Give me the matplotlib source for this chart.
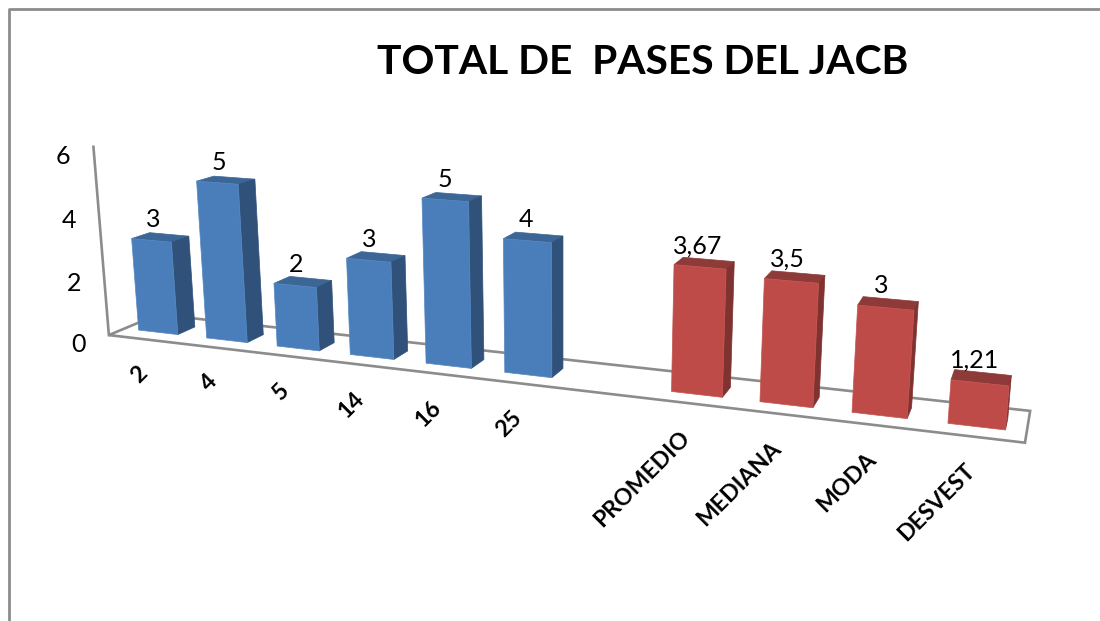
import numpy as np
import matplotlib
matplotlib.use("Agg")
import matplotlib.pyplot as plt

categories = ["2", "4", "5", "14", "16", "25", "", "PROMEDIO", "MEDIANA", "MODA", "DESVEST"]
values = [3, 5, 2, 3, 5, 4, None, 3.67, 3.5, 3, 1.21]
value_labels = ["3", "5", "2", "3", "5", "4", "", "3,67", "3,5", "3", "1,21"]
y_ticks = [0, 2, 4, 6]
title = "TOTAL DE  PASES DEL JACB"
n_blue = 6

# Perspective camera of the 3-D scene: (slot fraction, depth fraction, value) -> pixels
CAMERA = np.array([[717.67251, 57.42509, -3.08437, 108.86399],
                   [21.90204, -4.39472, -32.18071, 335.08696],
                   [-0.1936, 0.05169, -0.00548, 1.0]])
BAR_WIDTH = 0.58
DEPTH_FRONT = 0.31
DEPTH_BACK = 0.67


def project(u, d, z):
    q = CAMERA @ np.array([u, d, z, 1.0])
    return q[0] / q[2], q[1] / q[2]


fig = plt.figure(figsize=(11, 6.21), dpi=100)
ax = fig.add_axes([0, 0, 1, 1])
ax.set_xlim(0, 1100)
ax.set_ylim(621, 0)
ax.axis("off")

grey = "#8c8c8c"
ax.plot([9, 9, 1100], [621, 9, 9], color=grey, lw=2)
floor = [project(*c, 0) for c in [(0, 0), (1, 0), (1, 1), (0, 1)]]
ax.fill(*zip(*floor), facecolor="none", edgecolor=grey, lw=1.9)
ax.plot(*zip(project(0, 0, 0), project(0, 0, max(y_ticks))), color=grey, lw=1.9)

for t in y_ticks:
    x, y = project(0, 0, t)
    ax.text(x - 30, y + 9.5, str(t), fontsize=18, family="Lato", ha="center", va="center")

blue = ("#4a7ebb", "#30527a", "#3c6696", "#5587c2")
red = ("#be4b48", "#7f3230", "#8e3a38", "#c45552")
n = len(categories)
for i, (c, v, lab) in enumerate(zip(categories, values, value_labels)):
    if v is None:
        continue
    l = (i + .5 - BAR_WIDTH / 2) / n
    r = (i + .5 + BAR_WIDTH / 2) / n
    fc, sc, tc, ec = blue if i < n_blue else red
    ax.fill(*zip(*[project(l, DEPTH_FRONT, v), project(r, DEPTH_FRONT, v),
                   project(r, DEPTH_BACK, v), project(l, DEPTH_BACK, v)]), color=tc, lw=.5)
    ax.fill(*zip(*[project(r, DEPTH_FRONT, 0), project(r, DEPTH_BACK, 0),
                   project(r, DEPTH_BACK, v), project(r, DEPTH_FRONT, v)]), color=sc, lw=.5)
    ax.fill(*zip(*[project(l, DEPTH_FRONT, 0), project(r, DEPTH_FRONT, 0),
                   project(r, DEPTH_FRONT, v), project(l, DEPTH_FRONT, v)]),
            facecolor=fc, edgecolor=ec, lw=.5)
    x, y = project((l + r) / 2, (DEPTH_FRONT + DEPTH_BACK) / 2, v)
    ax.text(x - 7, y - 17.5, lab, fontsize=18, family="Lato", ha="center", va="center")
    x, y = project((l + r) / 2, 0, 0)
    dx = 1 if i < n_blue else -2.5
    ax.text(x + dx, y + 31, c, fontsize=16.6, family="Lato", weight="bold", rotation=45,
            rotation_mode="anchor", ha="right", va="center")

ax.text(642.5, 62, title, fontsize=29.3, family="Lato", weight="bold", ha="center", va="center")
fig.savefig("out.png", dpi=100)
